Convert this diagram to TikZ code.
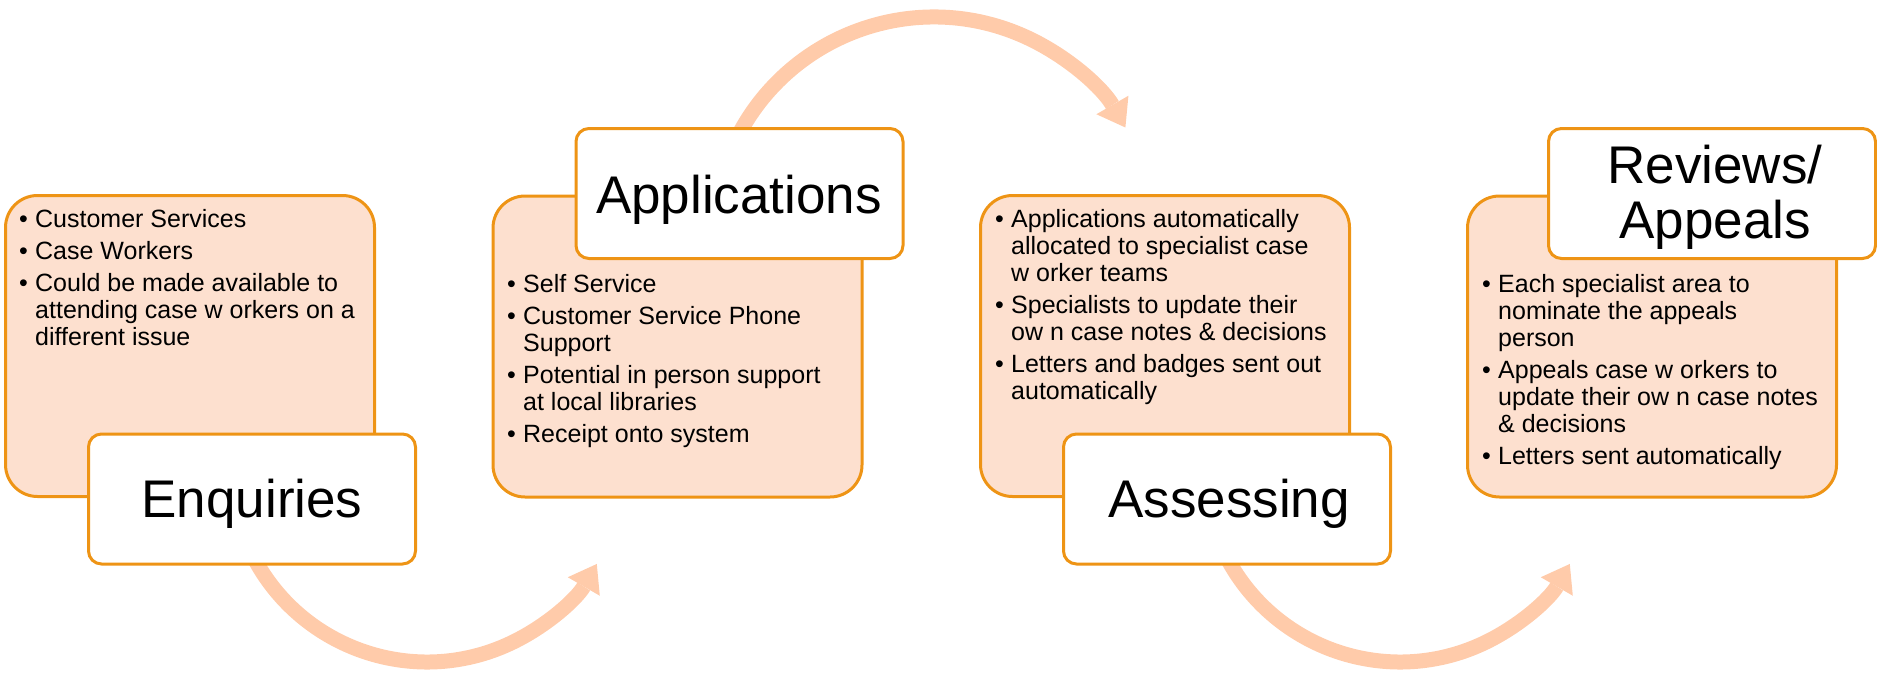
\documentclass[tikz,border=0pt]{standalone}
\usepackage{fontspec}
\setmainfont{Liberation Sans}
\usetikzlibrary{arrows.meta,calc}
\definecolor{bord}{HTML}{EE9415}
\definecolor{peach}{HTML}{FDE0CF}
\definecolor{flowcol}{HTML}{FFCBAA}
\newcommand{\bpt}[1]{\par\hangindent=16pt\hangafter=1\noindent\makebox[16pt][l]{\textbullet}#1}
\newcommand{\bodylist}[1]{\begin{minipage}[t]{365pt}\fontsize{25}{27}\selectfont\setlength{\parskip}{5pt}\raggedright#1\end{minipage}}
\begin{document}
\begin{tikzpicture}[x=1pt,y=-1pt,
  bodybox/.style={draw=bord, line width=3pt, fill=peach, rounded corners=32pt, minimum width=369pt, minimum height=301pt, inner sep=0pt},
  titlebox/.style={draw=bord, line width=3pt, fill=white, rounded corners=13pt, minimum width=327pt, minimum height=130pt, inner sep=0pt},
  bodytext/.style={anchor=base west, inner sep=0pt},
  titletext/.style={anchor=base, inner sep=0pt, font=\fontsize{53}{55}\selectfont},
  flow/.style={draw=flowcol, line width=15pt, -{Triangle[length=26pt,width=37pt,line width=0pt]}}]
\useasboundingbox (0,0) rectangle (1877,675);

% circular arrows
\coordinate (a1s) at (249.4,548.8);
\coordinate (a2s) at (733.7,144.6);
\coordinate (a3s) at (1222.4,548.8);
\draw[flow] (a1s) arc[start angle=205, end angle=330, radius=196pt];
\draw[flow] (a2s) arc[start angle=155, end angle=30, radius=221pt];
\draw[flow] (a3s) arc[start angle=205, end angle=330, radius=196pt];

% body boxes
\node[bodybox] (b1) at (190,346) {};
\node[bodybox] (b2) at (677.5,346.5) {};
\node[bodybox] (b3) at (1165,346) {};
\node[bodybox] (b4) at (1652,346.5) {};

% body texts
\node[bodytext] (t1) at (19,227) {\bodylist{%
\bpt{Customer Services}
\bpt{Case Workers}
\bpt{Could be made available to\newline attending case w orkers on a\newline different issue}}};
\node[bodytext] (t2) at (507,292) {\bodylist{%
\bpt{Self Service}
\bpt{Customer Service Phone\newline Support}
\bpt{Potential in person support\newline at local libraries}
\bpt{Receipt onto system}}};
\node[bodytext] (t3) at (995,227) {\bodylist{%
\bpt{Applications automatically\newline allocated to specialist case\newline w orker teams}
\bpt{Specialists to update their\newline ow n case notes \& decisions}
\bpt{Letters and badges sent out\newline automatically}}};
\node[bodytext] (t4) at (1482,292) {\bodylist{%
\bpt{Each specialist area to\newline nominate the appeals\newline person}
\bpt{Appeals case w orkers to\newline update their ow n case notes\newline \& decisions}
\bpt{Letters sent automatically}}};

% title boxes
\node[titlebox] (h1) at (252,499) {};
\node[titlebox] (h2) at (739.5,193.5) {};
\node[titlebox] (h3) at (1227,499) {};
\node[titlebox] (h4) at (1712,193.5) {};

\node[titletext] (l1) at (252,517) {Enquiries};
\node[titletext] (l2) at (739,213) {Applications};
\node[titletext] (l3) at (1229,517) {Assessing};
\node[titletext] (l4) at (1715,183) {\begin{tabular}[t]{@{}c@{}}Reviews/\\Appeals\end{tabular}};
\end{tikzpicture}
\end{document}
